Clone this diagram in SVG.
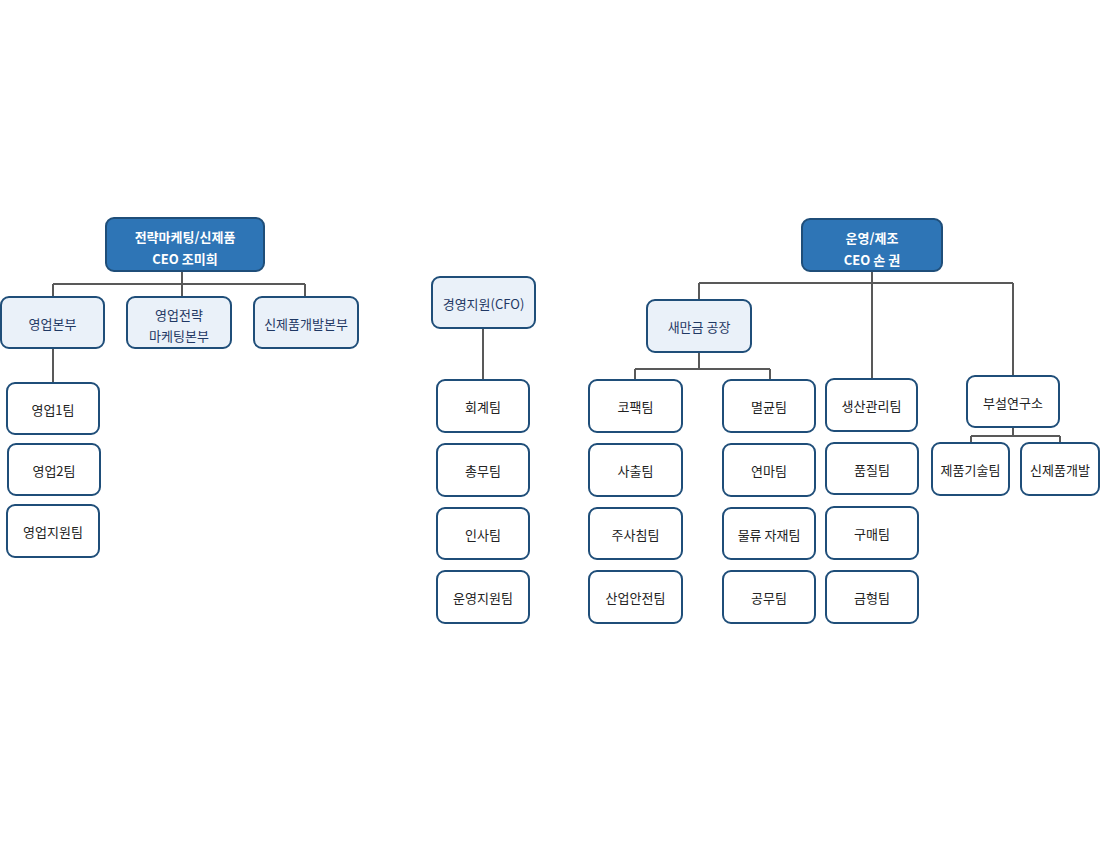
<svg xmlns="http://www.w3.org/2000/svg" width="1100" height="841" viewBox="0 0 1100 841">
<style>
.top{fill:#2E75B6;stroke:#1F4E79;stroke-width:2}
.mid{fill:#EAF1F9;stroke:#1F4E79;stroke-width:2}
.leaf{fill:#FFFFFF;stroke:#1F4E79;stroke-width:2}
text{font-family:"Noto Sans CJK KR","Noto Sans",sans-serif;font-size:13px;text-anchor:middle;dominant-baseline:central}
.tt{fill:#FFFFFF;font-weight:bold}
.mt{fill:#1F3864}
.lt{fill:#222222}
.conn{fill:none;stroke:#595959;stroke-width:2}
</style>
<rect width="1100" height="841" fill="#FFFFFF"/>
<g id="connectors" class="conn">
<path d="M182,271 V284 M53,284 H305 M53,284 V297 M182,284 V297 M305,284 V297"/>
<path d="M53,348 V383"/>
<path d="M483,328 V380"/>
<path d="M872,271 V379 M699,283 H1013 M699,283 V300 M1013,283 V376"/>
<path d="M699,352 V369 M635,369 H770 M635,369 V380 M770,369 V380"/>
<path d="M1013,427 V436 M971,436 H1060 M971,436 V443 M1060,436 V443"/>
</g>
<g id="n_strategy"><rect class="top" x="106" y="218" width="158" height="53" rx="8"/><text class="tt" x="185" y="236">전략마케팅/신제품</text><text class="tt" x="185" y="258">CEO 조미희</text></g>
<g id="n_sales"><rect class="mid" x="1" y="297" width="103" height="51" rx="8"/><text class="mt" x="52.5" y="323">영업본부</text></g>
<g id="n_mkt"><rect class="mid" x="127" y="297" width="104" height="51" rx="8"/><text class="mt" x="179" y="314">영업전략</text><text class="mt" x="179" y="335">마케팅본부</text></g>
<g id="n_newprod"><rect class="mid" x="254" y="297" width="104" height="51" rx="8"/><text class="mt" x="306" y="323">신제품개발본부</text></g>
<g id="n_sales1"><rect class="leaf" x="7" y="383" width="92" height="51" rx="8"/><text class="lt" x="53" y="409">영업1팀</text></g>
<g id="n_sales2"><rect class="leaf" x="8" y="444" width="92" height="51" rx="8"/><text class="lt" x="54" y="470">영업2팀</text></g>
<g id="n_salessup"><rect class="leaf" x="7" y="505" width="92" height="52" rx="8"/><text class="lt" x="53" y="531">영업지원팀</text></g>

<g id="n_cfo"><rect class="mid" x="432" y="277" width="103" height="51" rx="8"/><text class="mt" x="483.5" y="303">경영지원(CFO)</text></g>
<g id="n_acc"><rect class="leaf" x="437" y="380" width="92" height="52" rx="8"/><text class="lt" x="483" y="406">회계팀</text></g>
<g id="n_ga"><rect class="leaf" x="437" y="444" width="92" height="52" rx="8"/><text class="lt" x="483" y="470">총무팀</text></g>
<g id="n_hr"><rect class="leaf" x="437" y="508" width="92" height="51" rx="8"/><text class="lt" x="483" y="534">인사팀</text></g>
<g id="n_opsup"><rect class="leaf" x="437" y="571" width="92" height="52" rx="8"/><text class="lt" x="483" y="597">운영지원팀</text></g>

<g id="n_ops"><rect class="top" x="802" y="219" width="140" height="52" rx="8"/><text class="tt" x="872" y="237">운영/제조</text><text class="tt" x="872" y="259">CEO 손 권</text></g>
<g id="n_plant"><rect class="mid" x="647" y="300" width="104" height="52" rx="8"/><text class="mt" x="699" y="326">새만금 공장</text></g>
<g id="n_copack"><rect class="leaf" x="589" y="380" width="93" height="52" rx="8"/><text class="lt" x="635.5" y="406">코팩팀</text></g>
<g id="n_sachul"><rect class="leaf" x="589" y="444" width="93" height="52" rx="8"/><text class="lt" x="635.5" y="470">사출팀</text></g>
<g id="n_jusachim"><rect class="leaf" x="589" y="508" width="93" height="51" rx="8"/><text class="lt" x="635.5" y="534">주사침팀</text></g>
<g id="n_safety"><rect class="leaf" x="589" y="571" width="93" height="52" rx="8"/><text class="lt" x="635.5" y="597">산업안전팀</text></g>
<g id="n_steril"><rect class="leaf" x="723" y="380" width="92" height="52" rx="8"/><text class="lt" x="769" y="406">멸균팀</text></g>
<g id="n_grind"><rect class="leaf" x="723" y="444" width="92" height="52" rx="8"/><text class="lt" x="769" y="470">연마팀</text></g>
<g id="n_logi"><rect class="leaf" x="723" y="508" width="92" height="51" rx="8"/><text class="lt" x="769" y="534">물류 자재팀</text></g>
<g id="n_works"><rect class="leaf" x="723" y="571" width="92" height="52" rx="8"/><text class="lt" x="769" y="597">공무팀</text></g>
<g id="n_prodmgmt"><rect class="leaf" x="826" y="379" width="91" height="52" rx="8"/><text class="lt" x="871.5" y="405">생산관리팀</text></g>
<g id="n_quality"><rect class="leaf" x="826" y="443" width="92" height="51" rx="8"/><text class="lt" x="872" y="469">품질팀</text></g>
<g id="n_purch"><rect class="leaf" x="826" y="507" width="92" height="52" rx="8"/><text class="lt" x="872" y="533">구매팀</text></g>
<g id="n_mold"><rect class="leaf" x="826" y="571" width="92" height="52" rx="8"/><text class="lt" x="872" y="597">금형팀</text></g>
<g id="n_lab"><rect class="leaf" x="967" y="376" width="92" height="51" rx="8"/><text class="lt" x="1013" y="402">부설연구소</text></g>
<g id="n_prodtech"><rect class="leaf" x="932" y="443" width="77" height="52" rx="8"/><text class="lt" x="970.5" y="469">제품기술팀</text></g>
<g id="n_newdev"><rect class="leaf" x="1021" y="443" width="78" height="52" rx="8"/><text class="lt" x="1060" y="469">신제품개발</text></g>
</svg>
